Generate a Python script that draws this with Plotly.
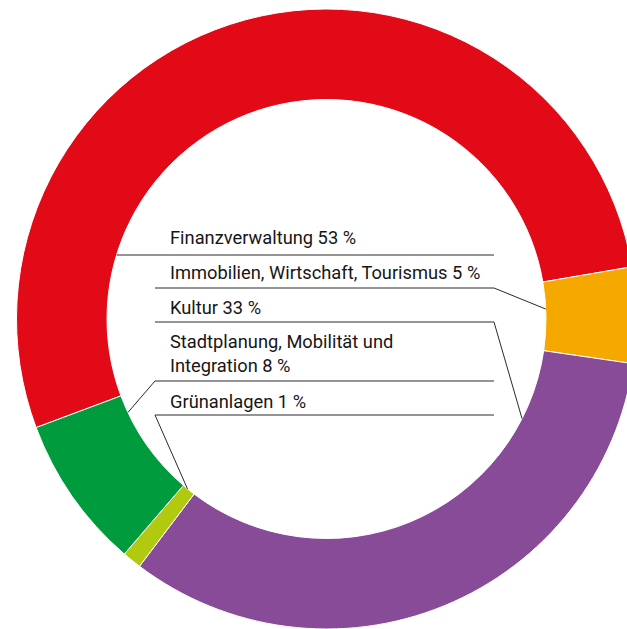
import numpy as np
import plotly.graph_objects as go

# ring order (clockwise, starting at the left/red slice)
ring_labels = ["Finanzverwaltung", "Immobilien, Wirtschaft, Tourismus", "Kultur",
               "Grünanlagen", "Stadtplanung, Mobilität und Integration"]
ring_values = [53, 5, 33, 1, 8]
ring_colors = ["#E20A17", "#F5A800", "#884B98", "#B1C90F", "#009B3D"]

# label block order (top to bottom)
label_texts = ["Finanzverwaltung 53 %",
               "Immobilien, Wirtschaft, Tourismus 5 %",
               "Kultur 33 %",
               "Stadtplanung, Mobilität und<br>Integration 8 %",
               "Grünanlagen 1 %"]

# the ring is cropped by the right edge of the picture, so the figure is a bit
# larger than the window and the page hides the overflow
OFF = 0
W, H = 640, 640
# pie geometry in page pixels
cx, cy, R = 326.5, 319.0, 310.0
hole = 0.708
r_in = R * hole


def px(x):
    return (x - OFF) / W


def py(y):
    return 1 - (y - OFF) / H


fig = go.Figure(go.Pie(
    labels=ring_labels, values=ring_values, sort=False,
    direction="clockwise", rotation=249.5, hole=hole,
    marker=dict(colors=ring_colors, line=dict(color="white", width=1)),
    textinfo="none", hoverinfo="label+percent", showlegend=False,
    domain=dict(x=[px(cx - R), px(cx + R)], y=[py(cy + R), py(cy - R)]),
))


def ring_pt(angle_deg):
    # angle measured clockwise from east, on the inner edge
    a = np.radians(angle_deg)
    return cx + r_in * np.cos(a), cy + r_in * np.sin(a)


font = dict(family="Roboto, 'Noto Sans', sans-serif", size=18.3, color="#161616")
text_x = 168
text_y = [238, 272, 307, 353.5, 401]
for t, y in zip(label_texts, text_y):
    fig.add_annotation(text=t, x=px(text_x), y=py(y), xref="paper", yref="paper",
                       xanchor="left", yanchor="middle", showarrow=False, align="left",
                       font=font)

line_style = dict(color="#2a2a2a", width=1)
x_right = 494
x_left = 155

# line 1: from inner ring edge to right
y1 = 255
xl1 = cx - np.sqrt(r_in ** 2 - (y1 - cy) ** 2)
fig.add_shape(type="line", xref="paper", yref="paper",
              x0=px(xl1), y0=py(y1), x1=px(x_right), y1=py(y1), line=line_style)


def path(points):
    return "M " + " L ".join(f"{px(x):.5f},{py(y):.5f}" for x, y in points)


# line 2 -> orange
fig.add_shape(type="path", xref="paper", yref="paper",
              path=path([(x_left, 288), (x_right, 288), ring_pt(-2.6)]), line=line_style)
# line 3 -> purple
fig.add_shape(type="path", xref="paper", yref="paper",
              path=path([(x_left, 322), (x_right, 322), ring_pt(27)]), line=line_style)
# line 4 -> green
fig.add_shape(type="path", xref="paper", yref="paper",
              path=path([ring_pt(180 - 25.2), (x_left, 381), (x_right, 381)]), line=line_style)
# line 5 -> lime
fig.add_shape(type="path", xref="paper", yref="paper",
              path=path([ring_pt(129.3), (x_left, 415), (x_right, 415)]), line=line_style)

fig.update_layout(width=W, height=H, margin=dict(l=0, r=0, t=0, b=0),
                  paper_bgcolor="white", plot_bgcolor="white")
fig.write_html(
    "out.html",
    config={"displayModeBar": False},
    post_script=("document.documentElement.style.overflow='hidden';"
                 "document.body.style.overflow='hidden';"
                 "document.body.style.margin='0';"),
)
